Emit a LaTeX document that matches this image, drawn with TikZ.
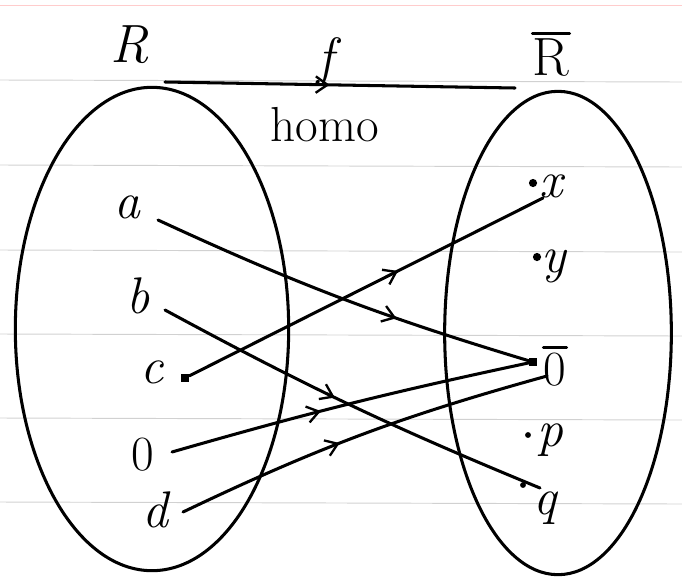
\documentclass[tikz,border=0pt]{standalone}
\usetikzlibrary{arrows.meta,decorations.markings,shapes.geometric}
\begin{document}
\begin{tikzpicture}[x=0.03cm,y=-0.03cm,
  ink/.style={line width=2.6pt,line cap=round,line join=round},
  rule/.style={line width=0.8pt,black!18},
  setbox/.style={ink,draw,ellipse,inner sep=0pt},
  lbl/.style={font=\fontsize{46}{52}\selectfont,inner sep=0pt},
  elem/.style={font=\fontsize{44}{50}\selectfont\itshape,inner sep=0pt},
  dotc/.style={circle,fill=black,inner sep=0pt,minimum size=7pt},
  map/.style={ink,postaction={decorate},decoration={markings,
    mark=at position #1 with {\arrow{Straight Barb[length=10pt,width=14pt,line width=2pt]}}}}]
\useasboundingbox (0,0) rectangle (682,580);
% ruled paper
\foreach \yy in {80,165,250,334,418,502}
  \draw[rule] (0,\yy) -- (682,\yy+2);
\draw[line width=0.8pt,red!20] (0,5) -- (682,5);
% sets
\node[setbox,minimum width=8.2cm,minimum height=14.5cm] (SR) at (152,329) {};
\node[setbox,minimum width=6.8cm,minimum height=14.5cm] (SRb) at (558,333) {};
% headers
\node[lbl] (R) at (130,45) {\textit{R}};
\node[lbl] (Rb) at (551,58) {R};
\draw[ink] ([yshift=5pt]Rb.north west) -- ([yshift=5pt]Rb.north east);
\node[lbl] (f) at (330,62) {\textit{f}};
\node[lbl,font=\fontsize{42}{48}\selectfont] (homo) at (325,125) {homo};
\coordinate (fs) at (165,82);
\coordinate (fe) at (515,88);
\draw[map=0.47] (fs) -- (fe);
% left elements
\node[elem] (a) at (127,207) {a};
\node[elem] (b) at (138,296) {b};
\node[elem] (c) at (152,372) {c};
\node[elem,font=\fontsize{42}{48}\selectfont] (z) at (143,455) {0};
\node[elem] (d) at (155,510) {d};
\coordinate (pa) at (158,220);
\coordinate (pb) at (165,310);
\node[dotc,rectangle,minimum size=7pt] (pc) at (185,378) {};
\coordinate (pz) at (172,452);
\coordinate (pd) at (183,512);
% right elements
\node[elem] (x) at (551,186) {x};
\node[elem] (y) at (554,266) {y};
\node[elem,font=\fontsize{42}{48}\selectfont] (zb) at (555,370) {0};
\draw[ink] ([yshift=5pt]zb.north west) -- ([yshift=5pt]zb.north east);
\node[elem] (p) at (550,440) {p};
\node[elem] (q) at (545,508) {q};
\node[dotc] (px) at (533,183) {};
\node[dotc] (py) at (537,257) {};
\node[dotc,rectangle] (pzb) at (533,362) {};
\node[dotc,minimum size=5pt] (pp) at (528,435) {};
\node[dotc,minimum size=5pt] (pq) at (523,485) {};
% maps
\draw[map=0.65] (pa) to[bend right=4] (pzb);
\draw[map=0.46] (pb) to[bend right=3] (540,488);
\draw[map=0.59] (pc) -- (543,198);
\draw[map=0.42] (pz) to[bend left=2] (pzb);
\draw[map=0.44] (pd) to[bend left=5] (547,376);
\end{tikzpicture}
\end{document}
